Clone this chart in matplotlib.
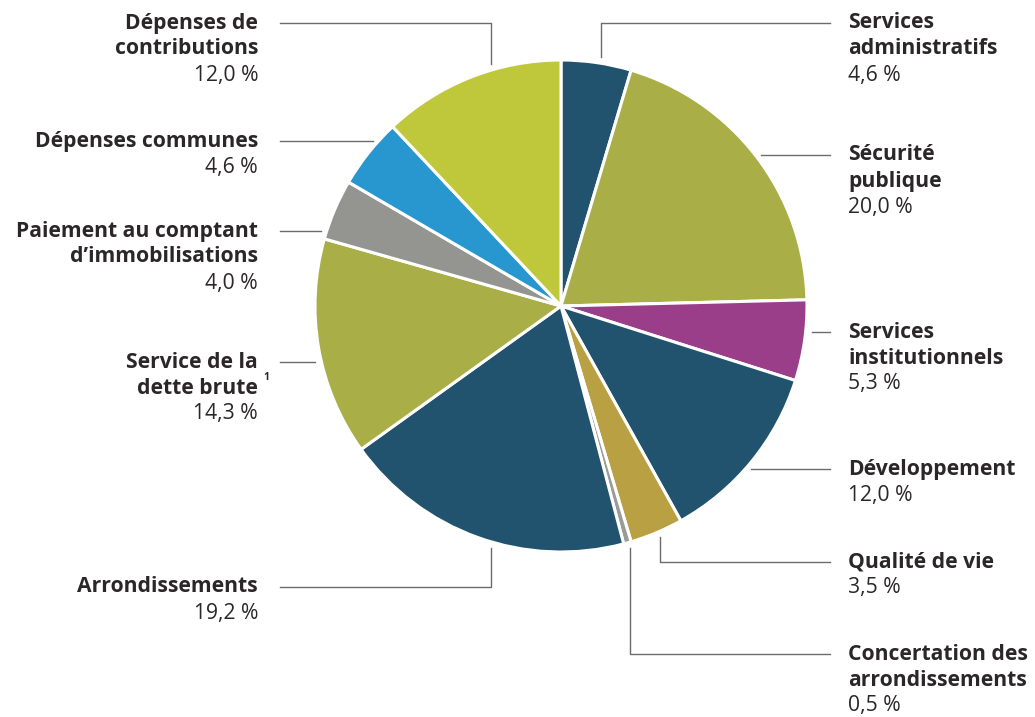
import numpy as np
import matplotlib
matplotlib.use("Agg")
import matplotlib.pyplot as plt

# Répartition des dépenses (%), dans le sens horaire depuis midi
categories = [
    "Services\nadministratifs",
    "Sécurité\npublique",
    "Services\ninstitutionnels",
    "Développement",
    "Qualité de vie",
    "Concertation des\narrondissements",
    "Arrondissements",
    "Service de la\ndette brute",
    "Paiement au comptant\nd’immobilisations",
    "Dépenses communes",
    "Dépenses de\ncontributions",
]
values = [4.6, 20.0, 5.3, 12.0, 3.5, 0.5, 19.2, 14.3, 4.0, 4.6, 12.0]
colors = ["#21536e", "#a9ae47", "#9a3e8a", "#21536e", "#b9a042", "#9a9b97",
          "#21536e", "#a9ae47", "#949591", "#2896cf", "#bec83a"]
footnotes = {"Service de la\ndette brute": "1"}

# mise en page (pixels) : côté, y de la 1re ligne, x du coude vertical
sides = ["R", "R", "R", "R", "R", "R", "L", "L", "L", "L", "L"]
label_y = [23, 155, 332, 469, 562, 654, 587, 362, 231, 141, 23]
elbow_x = [601, None, None, None, 660, 630, 491, None, None, None, 491]

W, H = 1035, 717
cx, cy, r = 561, 306, 246
gap = 6
line_h = 26
fs = 15.2
txt_color = "#2b2627"
line_color = "#6b6b6b"

plt.rcParams["font.family"] = ["Open Sans", "DejaVu Sans"]

fig = plt.figure(figsize=(W / 100, H / 100), dpi=100)
ax = fig.add_axes([0, 0, 1, 1])

ax.pie(values, colors=colors, startangle=90, counterclock=False,
       center=(cx, H - cy), radius=r,
       wedgeprops=dict(edgecolor="white", linewidth=2.2))
ax.set_xlim(0, W)
ax.set_ylim(0, H)
ax.set_aspect("equal")
ax.axis("off")


def fy(y):
    return H - y


for name, val, side, y0, ex in zip(categories, values, sides, label_y, elbow_x):
    x_end = 830 if side == "R" else 280
    if ex is None:
        dx = np.sqrt(r ** 2 - (y0 - cy) ** 2) + gap
        x_pie = cx + dx if side == "R" else cx - dx
        ax.plot([x_end, x_pie], [fy(y0), fy(y0)], color=line_color, lw=1)
    else:
        dy = np.sqrt(r ** 2 - (ex - cx) ** 2) + gap
        y_pie = cy - dy if y0 < cy else cy + dy
        ax.plot([x_end, ex, ex], [fy(y0), fy(y0), fy(y_pie)],
                color=line_color, lw=1)

    tx = 848 if side == "R" else 258
    ha = "left" if side == "R" else "right"
    lines = name.split("\n")
    for i, ln in enumerate(lines):
        ax.text(tx, fy(y0 + i * line_h), ln, ha=ha, va="center",
                fontsize=fs, fontweight="bold", color=txt_color)
    if name in footnotes:
        ax.text(tx + 5, fy(y0 + (len(lines) - 1) * line_h - 10), footnotes[name],
                ha="left", va="center", fontsize=7.5, fontweight="bold",
                color=txt_color)
    pct = f"{val:.1f} %".replace(".", ",")
    ax.text(tx, fy(y0 + len(lines) * line_h), pct, ha=ha, va="center",
            fontsize=fs, color=txt_color)

fig.savefig("out.png", dpi=100)
